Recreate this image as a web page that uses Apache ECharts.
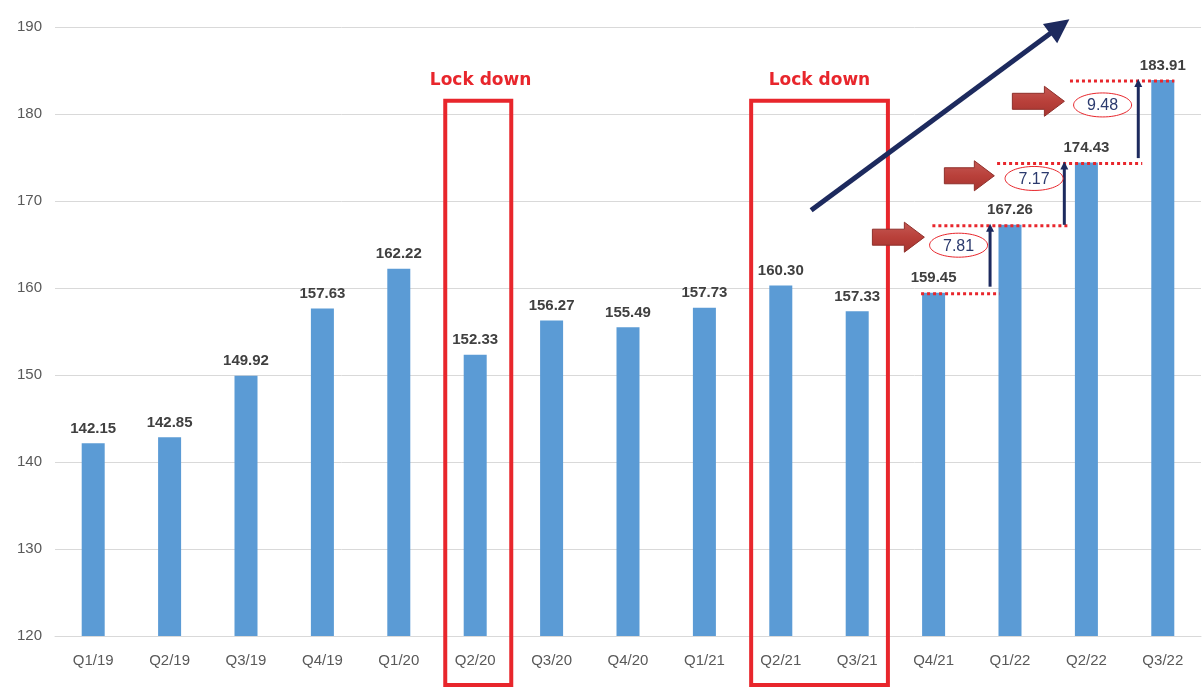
<!DOCTYPE html>
<html>
<head>
<meta charset="utf-8">
<script src="https://cdn.jsdelivr.net/npm/echarts@6/dist/echarts.min.js"></script>
<style>
html,body{margin:0;padding:0;background:#fff;}
#main{width:1204px;height:691px;}
</style>
</head>
<body>
<div id="main"></div>
<script>
// ---- data ----
const categories = ['Q1/19','Q2/19','Q3/19','Q4/19','Q1/20','Q2/20','Q3/20','Q4/20','Q1/21','Q2/21','Q3/21','Q4/21','Q1/22','Q2/22','Q3/22'];
const values = [142.15, 142.85, 149.92, 157.63, 162.22, 152.33, 156.27, 155.49, 157.73, 160.30, 157.33, 159.45, 167.26, 174.43, 183.91];
const yTicks = [120, 130, 140, 150, 160, 170, 180, 190];
const deltas = [7.81, 7.17, 9.48];
const lockdownText = 'Lock down';

// ---- chart ----
const chart = echarts.init(document.getElementById('main'));
const axisFont = "'Liberation Sans', Arial, sans-serif";
chart.setOption({
  animation: false,
  backgroundColor: '#ffffff',
  grid: { left: 55, right: 3, top: 27, bottom: 55 },
  xAxis: {
    type: 'category',
    data: categories,
    axisLine: { lineStyle: { color: '#d9d9d9', width: 1 } },
    axisTick: { show: false },
    axisLabel: { color: '#595959', fontSize: 15, fontFamily: axisFont, margin: 17 }
  },
  yAxis: {
    type: 'value',
    min: yTicks[0], max: yTicks[yTicks.length - 1], interval: 10,
    axisLine: { show: false },
    axisTick: { show: false },
    splitLine: { lineStyle: { color: '#d9d9d9', width: 1 } },
    axisLabel: { color: '#595959', fontSize: 15, fontFamily: axisFont, margin: 13 }
  },
  series: [{
    type: 'bar',
    data: values,
    barWidth: 23,
    itemStyle: { color: '#5b9bd5' },
    label: {
      show: true, position: 'top', distance: 7,
      color: '#404040', fontSize: 15, fontWeight: 'bold', fontFamily: axisFont,
      formatter: p => p.value.toFixed(2)
    }
  }]
});

// ---- annotations (positioned through the axes) ----
const x0 = chart.convertToPixel({ xAxisIndex: 0 }, categories[0]);
const x1 = chart.convertToPixel({ xAxisIndex: 0 }, categories[1]);
const step = x1 - x0;
const px = ci => x0 + ci * step;
const py = v => chart.convertToPixel({ yAxisIndex: 0 }, v);

const RED = '#e8262c';
const NAVY = '#1d2a5e';
const g = [];

// Lock down boxes + captions
const boxes = [
  { c1: 4.608, c2: 5.472, textC: 5.07 },
  { c1: 8.612, c2: 10.402, textC: 9.506 }
];
boxes.forEach(b => {
  const l = px(b.c1), r = px(b.c2), t = py(181.52), btm = py(114.37);
  g.push({ type: 'rect', shape: { x: l, y: t, width: r - l, height: btm - t },
    style: { fill: 'none', stroke: RED, lineWidth: 4 }, z: 10 });
  g.push({ type: 'text', x: px(b.textC), y: py(183.88),
    style: { text: lockdownText, fill: RED, font: "bold 17px 'DejaVu Sans', sans-serif",
      align: 'center', verticalAlign: 'middle' }, z: 10 });
});

// red dotted level lines
const levels = [
  { i: 11, c1: 10.836, c2: 11.861 },
  { i: 12, c1: 10.984, c2: 12.777 },
  { i: 13, c1: 11.831, c2: 13.731 },
  { i: 14, c1: 12.785, c2: 14.151 }
];
levels.forEach(L => {
  const y = py(values[L.i]) + 1;
  g.push({ type: 'line', shape: { x1: px(L.c1), y1: y, x2: px(L.c2), y2: y },
    style: { stroke: RED, lineWidth: 3, lineDash: [3, 3] }, z: 11 });
});

// arrow helper
function arrow(xs, ys, xe, ye, w, headLen, headHalf, color) {
  const dx = xe - xs, dy = ye - ys, len = Math.hypot(dx, dy);
  const ux = dx / len, uy = dy / len, nx = -uy, ny = ux;
  const bx = xe - ux * headLen, by = ye - uy * headLen;
  g.push({ type: 'line', shape: { x1: xs, y1: ys, x2: bx + ux, y2: by + uy },
    style: { stroke: color, lineWidth: w }, z: 12 });
  g.push({ type: 'polygon', shape: { points: [[xe, ye], [bx + nx * headHalf, by + ny * headHalf], [bx - nx * headHalf, by - ny * headHalf]] },
    style: { fill: color }, z: 12 });
}

// navy vertical step arrows
const steps = [
  { c: 11.739, from: values[11] + 0.7, to: values[12] },
  { c: 12.711, from: values[12], to: values[13] },
  { c: 13.679, from: values[13] + 0.5, to: values[14] }
];
steps.forEach(s => arrow(px(s.c), py(s.from), px(s.c), py(s.to) - 1, 3, 8, 4, NAVY));

// big trend arrow
arrow(px(9.397), py(168.94), px(12.777), py(190.88), 5, 24, 12, NAVY);

// red block arrows
const blocks = [
  { c1: 10.199, c2: 10.879, v: 165.84 },
  { c1: 11.141, c2: 11.795, v: 172.90 },
  { c1: 12.031, c2: 12.712, v: 181.46 }
];
blocks.forEach(b => {
  const xa = px(b.c1), xb = px(b.c2), cy = py(b.v), hl = 20;
  g.push({ type: 'polygon', shape: { points: [
      [xa, cy - 8], [xb - hl, cy - 8], [xb - hl, cy - 15], [xb, cy],
      [xb - hl, cy + 15], [xb - hl, cy + 8], [xa, cy + 8]] },
    style: { fill: {
        type: 'linear', x: 0, y: 0, x2: 0, y2: 1,
        colorStops: [{ offset: 0, color: '#c55a55' }, { offset: 0.5, color: '#b9403a' }, { offset: 1, color: '#a5342f' }] },
      stroke: '#8e2f2a', lineWidth: 1 }, z: 12 });
});

// ellipses with deltas
const ovals = [
  { c: 11.327, v: 164.92 },
  { c: 12.315, v: 172.59 },
  { c: 13.212, v: 181.04 }
];
ovals.forEach((o, k) => {
  const cx = px(o.c), cy = py(o.v);
  g.push({ type: 'ellipse', shape: { cx: cx, cy: cy, rx: 29, ry: 12 },
    style: { fill: '#ffffff', stroke: RED, lineWidth: 1 }, z: 13 });
  g.push({ type: 'text', x: cx, y: cy + 1,
    style: { text: deltas[k].toFixed(2), fill: '#2b3a6e', font: "16px 'Liberation Sans', Arial, sans-serif",
      align: 'center', verticalAlign: 'middle' }, z: 14 });
});

chart.setOption({ graphic: g });
</script>
</body>
</html>
